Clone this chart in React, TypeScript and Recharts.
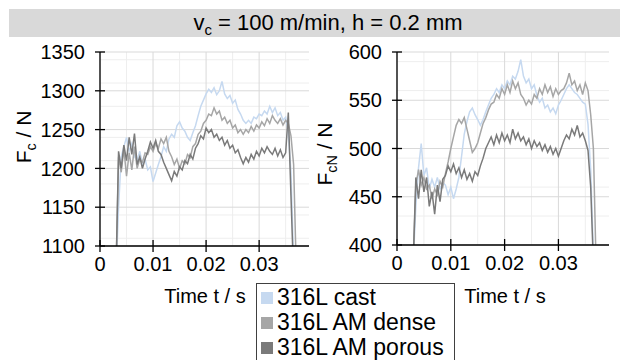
import { CartesianGrid, Line, LineChart, XAxis, YAxis } from "recharts";

// time base (s)
const time = [
  0.003, 0.0035, 0.004, 0.0045, 0.005, 0.0055, 0.006, 0.0065, 0.007, 0.0075,
  0.008, 0.0085, 0.009, 0.0095, 0.01, 0.0105, 0.011, 0.0115, 0.012, 0.0125,
  0.013, 0.0135, 0.014, 0.0145, 0.015, 0.0155, 0.016, 0.0165, 0.017, 0.0175,
  0.018, 0.0185, 0.019, 0.0195, 0.02, 0.0205, 0.021, 0.0215, 0.022, 0.0225,
  0.023, 0.0235, 0.024, 0.0245, 0.025, 0.0255, 0.026, 0.0265, 0.027, 0.0275,
  0.028, 0.0285, 0.029, 0.0295, 0.03, 0.0305, 0.031, 0.0315, 0.032, 0.0325,
  0.033, 0.0335, 0.034, 0.0345, 0.035, 0.0355, 0.036, 0.0365, 0.037,
];

// cutting force Fc / N
const fcCast = [
  1060, 1150, 1215, 1228, 1240, 1222, 1232, 1215, 1210, 1222,
  1205, 1212, 1198, 1202, 1183, 1194, 1205, 1215, 1228, 1222,
  1238, 1244, 1240, 1255, 1260, 1252, 1248, 1240, 1236, 1246,
  1255, 1268, 1280, 1288, 1296, 1302, 1298, 1304, 1295, 1300,
  1312, 1296, 1290, 1294, 1284, 1288, 1276, 1270, 1262, 1258,
  1262, 1258, 1266, 1264, 1270, 1268, 1274, 1270, 1280, 1272,
  1278, 1268, 1272, 1262, 1266, 1245, 1195, 1080, null,
];
const fcDense = [
  1060, 1215, 1195, 1225, 1190, 1220, 1198, 1228, 1200, 1212,
  1208, 1220, 1218, 1228, 1222, 1232, 1226, 1238, 1232, 1240,
  1222, 1215, 1205, 1212, 1200, 1210, 1206, 1218, 1214, 1228,
  1232, 1244, 1248, 1258, 1262, 1270, 1268, 1278, 1270, 1274,
  1262, 1266, 1258, 1262, 1252, 1256, 1246, 1250, 1244, 1250,
  1246, 1254, 1248, 1256, 1252, 1260, 1255, 1264, 1258, 1268,
  1262, 1258, 1264, 1256, 1262, 1258, 1242, 1205, 1070,
];
const fcPorous = [
  1060, 1222, 1200, 1230, 1210, 1240, 1218, 1245, 1205, 1215,
  1200, 1212, 1222, 1234, 1226, 1236, 1222, 1218, 1208, 1200,
  1192, 1184, 1196, 1190, 1202, 1198, 1210, 1206, 1218, 1212,
  1226, 1232, 1242, 1238, 1252, 1246, 1250, 1240, 1244, 1236,
  1240, 1230, 1236, 1226, 1230, 1220, 1224, 1214, 1206, 1214,
  1208, 1218, 1212, 1222, 1216, 1226, 1220, 1228, 1222, 1218,
  1226, 1216, 1224, 1214, 1220, 1272, 1165, 1060, null,
];

// cutting normal force FcN / N
const fcnCast = [
  380, 440, 480, 505, 472, 480, 458, 468, 460, 470,
  458, 465, 462, 452, 460, 448, 458, 470, 492, 515,
  528, 538, 542, 535, 530, 524, 530, 538, 545, 552,
  556, 562, 558, 566, 562, 570, 566, 575, 572, 580,
  592, 575, 568, 572, 562, 566, 555, 548, 552, 542,
  545, 538, 542, 536, 545, 550, 556, 562, 566, 562,
  558, 556, 552, 548, 546, 525, 478, 390, null,
];
const fcnDense = [
  380, 462, 478, 462, 470, 458, 462, 448, 458, 452,
  466, 460, 474, 486, 500, 512, 524, 530, 526, 532,
  520, 508, 496, 500, 506, 516, 526, 532, 540, 546,
  548, 556, 552, 562, 556, 566, 558, 570, 562, 568,
  556, 552, 545, 550, 546, 556, 552, 562, 556, 566,
  558, 564, 554, 562, 556, 560, 562, 568, 578, 566,
  570, 560, 566, 556, 568, 560, 535, 500, 380,
];
const fcnPorous = [
  380, 470, 448, 478, 455, 470, 440, 455, 432, 462,
  445, 468, 472, 482, 476, 484, 474, 480, 470, 478,
  468, 474, 466, 476, 472, 482, 490, 500, 506, 512,
  504, 514, 506, 516, 508, 514, 506, 520, 510, 516,
  508, 512, 504, 510, 500, 508, 502, 506, 498, 504,
  496, 502, 494, 500, 492, 500, 508, 514, 510, 520,
  514, 524, 512, 516, 508, 498, 460, 380, null,
];

const timeTicks = [0, 0.01, 0.02, 0.03];
const timeMinor = [0.005, 0.015, 0.025, 0.035];
const fcTicks = [1100, 1150, 1200, 1250, 1300, 1350];
const fcMinor = [
  1110, 1120, 1130, 1140, 1160, 1170, 1180, 1190, 1210, 1220, 1230, 1240,
  1260, 1270, 1280, 1290, 1310, 1320, 1330, 1340,
];
const fcnTicks = [400, 450, 500, 550, 600];
const fcnMinor = [
  410, 420, 430, 440, 460, 470, 480, 490, 510, 520, 530, 540, 560, 570, 580, 590,
];

const seriesKeys = ["cast", "dense", "porous"];
const seriesNames = ["316L cast", "316L AM dense", "316L AM porous"];
const seriesColors = ["#c6d9f0", "#a6a6a6", "#7a7a7a"];

const fcRows = time.map((t, i) => ({
  t,
  cast: fcCast[i],
  dense: fcDense[i],
  porous: fcPorous[i],
}));
const fcnRows = time.map((t, i) => ({
  t,
  cast: fcnCast[i],
  dense: fcnDense[i],
  porous: fcnPorous[i],
}));

const FONT = "'Liberation Sans', Arial, sans-serif";
const TICK_SIZE = 5;
const TICK_MARGIN = 10;
const X_TICK_SIZE = 6;
const X_TICK_MARGIN = 5;

function YTick(props: any) {
  const { x, y, payload } = props;
  const ax = x + TICK_SIZE + TICK_MARGIN;
  return (
    <g>
      <line x1={ax - 5} x2={ax + 5} y1={y} y2={y} stroke="#000" strokeWidth={1.3} />
      <text x={x} y={y} dy="0.36em" textAnchor="end" fontSize={20} fontFamily={FONT} fill="#000">
        {payload.value}
      </text>
    </g>
  );
}

function XTick(props: any) {
  const { x, y, payload } = props;
  const ay = y - X_TICK_SIZE - X_TICK_MARGIN;
  const v = payload.value === 0 ? "0" : Number(payload.value).toFixed(2);
  return (
    <g>
      <line x1={x} x2={x} y1={ay - 6} y2={ay + 6} stroke="#000" strokeWidth={1.3} />
      <text x={x} y={y} dy="0.71em" textAnchor="middle" fontSize={20} fontFamily={FONT} fill="#000">
        {v}
      </text>
    </g>
  );
}

function ForcePanel(props: {
  rows: any[];
  domain: number[];
  ticks: number[];
  minor: number[];
  yWidth: number;
  xHeight: number;
}) {
  const { rows, domain, ticks, minor, yWidth, xHeight } = props;
  return (
    <LineChart
      width={320}
      height={300}
      data={rows}
      margin={{ top: 52, right: 11, bottom: 0, left: 0 }}
    >
      <CartesianGrid stroke="#eeeeee" horizontalValues={minor} verticalValues={timeMinor} />
      <CartesianGrid stroke="#d9d9d9" horizontalValues={ticks} verticalValues={timeTicks} />
      <XAxis
        dataKey="t"
        type="number"
        domain={[0, 0.0394]}
        ticks={timeTicks}
        allowDataOverflow
        height={xHeight}
        tickSize={X_TICK_SIZE}
        tickMargin={X_TICK_MARGIN}
        tickLine={false}
        axisLine={{ stroke: "#000", strokeWidth: 1.3 }}
        tick={(p: any) => <XTick {...p} />}
      />
      <YAxis
        type="number"
        domain={domain}
        ticks={ticks}
        allowDataOverflow
        width={yWidth}
        tickSize={TICK_SIZE}
        tickMargin={TICK_MARGIN}
        tickLine={false}
        axisLine={{ stroke: "#000", strokeWidth: 1.3 }}
        tick={(p: any) => <YTick {...p} />}
      />
      {seriesKeys.map((k, i) => (
        <Line
          key={k}
          dataKey={k}
          type="linear"
          stroke={seriesColors[i]}
          strokeWidth={1.5}
          dot={false}
          activeDot={false}
          isAnimationActive={false}
        />
      ))}
    </LineChart>
  );
}

const sub = { fontSize: "0.68em", position: "relative" as const, top: "0.32em" };

export default function App() {
  return (
    <div
      style={{
        position: "absolute",
        left: 0,
        top: 0,
        width: 620,
        height: 360,
        overflow: "hidden",
        background: "#fff",
        fontFamily: FONT,
        color: "#000",
      }}
    >
      <div
        style={{
          position: "absolute",
          left: 9,
          top: 9,
          width: 611,
          height: 28,
          background: "#d9d9d9",
          fontSize: 22,
          lineHeight: "28px",
          textAlign: "center",
          paddingLeft: 27,
          boxSizing: "border-box",
          whiteSpace: "nowrap",
        }}
      >
        v<span style={sub}>c</span> = 100 m/min, h = 0.2 mm
      </div>

      <div style={{ position: "absolute", left: 0, top: 0 }}>
        <ForcePanel rows={fcRows} domain={[1100, 1350]} ticks={fcTicks} minor={fcMinor} yWidth={100} xHeight={54} />
      </div>
      <div style={{ position: "absolute", left: 300, top: 0 }}>
        <ForcePanel rows={fcnRows} domain={[400, 600]} ticks={fcnTicks} minor={fcnMinor} yWidth={97} xHeight={55} />
      </div>

      <div
        style={{
          position: "absolute",
          left: 24 - 100,
          top: 137 - 13,
          width: 200,
          height: 26,
          lineHeight: "26px",
          fontSize: 21,
          textAlign: "center",
          transform: "rotate(-90deg)",
          whiteSpace: "nowrap",
        }}
      >
        F<span style={sub}>c</span> / N
      </div>
      <div
        style={{
          position: "absolute",
          left: 325 - 100,
          top: 154 - 13,
          width: 200,
          height: 26,
          lineHeight: "26px",
          fontSize: 21,
          textAlign: "center",
          transform: "rotate(-90deg)",
          whiteSpace: "nowrap",
        }}
      >
        F<span style={sub}>cN</span> / N
      </div>

      <div style={{ position: "absolute", left: 205 - 80, top: 283, width: 160, textAlign: "center", fontSize: 20, lineHeight: "26px" }}>
        Time t / s
      </div>
      <div style={{ position: "absolute", left: 505 - 80, top: 283, width: 160, textAlign: "center", fontSize: 20, lineHeight: "26px" }}>
        Time t / s
      </div>

      <div
        style={{
          position: "absolute",
          left: 256,
          top: 283,
          width: 199,
          height: 100,
          border: "1px solid #404040",
          boxSizing: "border-box",
          background: "#fff",
          paddingTop: 1,
        }}
      >
        {seriesNames.map((n, i) => (
          <div key={n} style={{ display: "flex", alignItems: "center", height: 25, fontSize: 23, whiteSpace: "nowrap" }}>
            <span
              style={{
                display: "inline-block",
                width: 12,
                height: 12,
                marginLeft: 4,
                marginRight: 4,
                background: seriesColors[i],
              }}
            />
            {n}
          </div>
        ))}
      </div>
    </div>
  );
}
